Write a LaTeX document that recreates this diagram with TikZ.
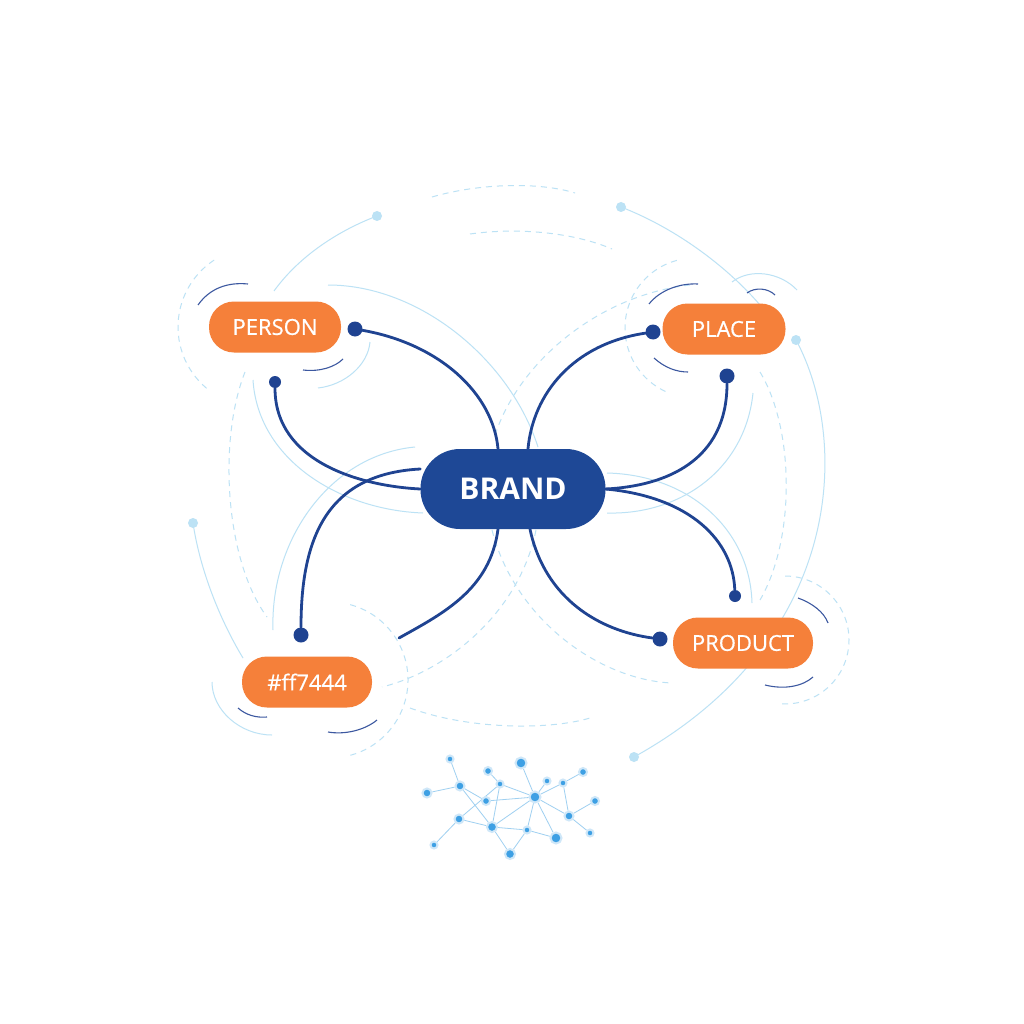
\documentclass[tikz,border=0pt]{standalone}
\usepackage{fontspec}
\setmainfont{Open Sans}
\newfontfamily\tagfont[FakeBold=0.6]{Open Sans}
\usetikzlibrary{backgrounds}

\definecolor{brandnavy}{RGB}{30,72,150}
\definecolor{linknavy}{RGB}{31,67,145}
\definecolor{tagorange}{RGB}{245,128,58}
\definecolor{faintblue}{RGB}{188,226,245}
\definecolor{accentblue}{RGB}{60,88,160}
\definecolor{netblue}{RGB}{62,160,228}

\newcommand*{\tagsize}{\fontsize{22}{26}\selectfont}
\newcommand*{\hubsize}{\fontsize{30}{36}\selectfont}

\begin{document}
\begin{tikzpicture}
[
	x=1pt,y=-1pt,
	tagbox/.style={rectangle,rounded corners=25pt,fill=tagorange,text=white,
		minimum width=#1,minimum height=51pt,inner sep=0pt,font=\tagfont\tagsize},
	hubbox/.style={rectangle,rounded corners=39.5pt,fill=brandnavy,text=white,
		minimum width=185pt,minimum height=80pt,inner sep=0pt,font=\hubsize\bfseries},
	closedpt/.style={circle,fill=linknavy,inner sep=0pt,minimum size=15pt},
	smallpt/.style={closedpt,minimum size=12pt},
	link/.style={linknavy,line width=2.8pt,line cap=round},
	faint/.style={faintblue,line width=1pt},
	faintdash/.style={faintblue,line width=1pt,dash pattern=on 6pt off 5pt},
	accent/.style={accentblue,line width=1.1pt},
	netpt/.style={circle,fill=netblue,draw=netblue!25,line width=2pt,inner sep=0pt,minimum size=#1},
	netedge/.style={netblue!50,line width=0.8pt}
]

	\useasboundingbox (0,0) rectangle (1024,1024);

	% main nodes
	\node[hubbox] (brand) at (513,489) {BRAND};
	\node[tagbox=132pt] (person) at (275,327) {PERSON};
	\node[tagbox=123pt] (place) at (724,329) {PLACE};
	\node[tagbox=130pt] (swatch) at (307,682) {\#ff7444};
	\node[tagbox=140pt] (product) at (743,643) {PRODUCT};

	% connector ends
	\node[closedpt] (pe1) at (355,329) {};
	\node[smallpt] (pe2) at (275,382) {};
	\node[closedpt] (pl1) at (653,332) {};
	\node[closedpt] (pl2) at (727,376) {};
	\node[closedpt] (sw1) at (301,635) {};
	\node[smallpt] (pr1) at (735,596) {};
	\node[closedpt] (pr2) at (660,639) {};
	\coordinate (swend) at (399,638);

	% network
	\foreach \n/\x/\y/\s in {n1/450/759/7pt, n2/521/763/11pt, n3/488/771/8pt,
		n4/583/772/8pt, n5/460/786/9pt, n6/500/784/7pt, n7/547/781/7pt,
		n8/563/783/7pt, n9/427/793/9pt, n10/486/801/8pt, n11/535/797/11pt,
		n12/595/801/8pt, n13/459/819/9pt, n14/492/827/10pt, n15/527/830/7pt,
		n16/569/816/9pt, n17/556/838/11pt, n18/590/833/7pt, n19/434/845/7pt,
		n20/510/854/10pt}
		\node[netpt=\s] (\n) at (\x,\y) {};

	\begin{scope}[on background layer]
		\fill[white] (0,0) rectangle (1024,1024);

		% faint lines
		\draw[faint] (274,291) .. controls (300,255) and (340,230) .. (377,216);
		\fill[faintblue] (377,216) circle[radius=5pt];
		\draw[faint] (328,285) .. controls (420,285) and (510,360) .. (538,447);
		\draw[faint] (253,380) .. controls (258,460) and (340,510) .. (423,513);
		\draw[faint] (415,447) .. controls (330,455) and (270,540) .. (273,630);
		\draw[faint] (193,523) .. controls (200,570) and (220,620) .. (243,658);
		\fill[faintblue] (193,523) circle[radius=5pt];
		\draw[faint] (318,388) .. controls (345,385) and (368,365) .. (370,342);
		\draw[faint] (621,207) .. controls (680,230) and (730,270) .. (760,305);
		\fill[faintblue] (621,207) circle[radius=5pt];
		\draw[faint] (732,282) .. controls (750,268) and (780,272) .. (797,290);
		\draw[faint] (753,393) .. controls (745,470) and (680,515) .. (607,513);
		\draw[faint] (607,473) .. controls (690,475) and (750,530) .. (752,603);
		\draw[faint] (796,340) .. controls (850,440) and (845,640) .. (634,757);
		\fill[faintblue] (796,340) circle[radius=5pt];
		\fill[faintblue] (634,757) circle[radius=5pt];
		\draw[faint] (212,682) .. controls (212,710) and (240,735) .. (272,735);

		% dashed arcs
		\draw[faintdash] (432,197) .. controls (480,183) and (540,182) .. (575,193);
		\draw[faintdash] (470,234) .. controls (520,227) and (575,233) .. (612,249);
		\draw[faintdash] (495,435) .. controls (520,360) and (600,295) .. (690,285);
		\draw[faintdash] (258,327) ++(130:80) arc[start angle=130,end angle=237,radius=80];
		\draw[faintdash] (245,372) .. controls (218,440) and (225,560) .. (267,617);
		\draw[faintdash] (695,328) ++(115:70) arc[start angle=115,end angle=258,radius=70];
		\draw[faintdash] (760,372) .. controls (795,430) and (795,540) .. (760,600);
		\draw[faintdash] (785,640) ++(-90:64) arc[start angle=-90,end angle=97,radius=64];
		\draw[faintdash] (330,680) ++(-75:78) arc[start angle=-75,end angle=75,radius=78];
		\draw[faintdash] (410,708) .. controls (470,730) and (550,730) .. (590,718);
		\draw[faintdash] (492,530) .. controls (515,620) and (600,680) .. (672,683);
		\draw[faintdash] (536,530) .. controls (520,610) and (450,670) .. (382,687);

		% accent arcs
		\draw[accent] (198,305) .. controls (210,288) and (228,282) .. (248,284);
		\draw[accent] (303,370) .. controls (320,372) and (335,367) .. (343,359);
		\draw[accent] (649,304) .. controls (660,290) and (680,283) .. (698,284);
		\draw[accent] (654,358) .. controls (665,368) and (677,372) .. (688,372);
		\draw[accent] (747,293) .. controls (755,287) and (768,288) .. (775,295);
		\draw[accent] (798,598) .. controls (812,603) and (824,612) .. (828,623);
		\draw[accent] (765,685) .. controls (785,690) and (803,686) .. (813,677);
		\draw[accent] (238,708) .. controls (246,715) and (256,718) .. (267,717);
		\draw[accent] (328,732) .. controls (345,735) and (365,730) .. (377,720);

		% connectors
		\draw[link] (pe1) .. controls +(85,15) and +(-5,-55) .. ([xshift=-15pt]brand.north);
		\draw[link] (pe2) .. controls +(0,80) and +(-60,-3) .. (brand.west);
		\draw[link] (pl1) .. controls +(-80,12) and +(5,-55) .. ([xshift=15pt]brand.north);
		\draw[link] (pl2) .. controls +(0,85) and +(60,-3) .. (brand.east);
		\draw[link] ([yshift=20pt]brand.west) .. controls +(-95,5) and +(0,-95) .. (sw1);
		\draw[link] ([xshift=-15pt]brand.south) .. controls +(-8,60) and +(45,-25) .. (swend);
		\draw[link] (brand.east) .. controls +(85,8) and +(-2,-55) .. (pr1);
		\draw[link] ([xshift=17pt]brand.south) .. controls +(15,70) and +(-60,-8) .. (pr2);

		% network edges
		\foreach \a/\b in {n1/n5, n9/n5, n5/n10, n5/n14, n13/n6, n13/n14, n13/n19,
			n3/n6, n6/n14, n6/n11, n10/n11, n2/n11, n11/n7, n11/n8, n8/n4,
			n8/n16, n11/n16, n16/n12, n16/n18, n11/n14, n11/n17, n14/n15,
			n15/n17, n14/n20, n15/n20, n11/n15}
			\draw[netedge] (\a) -- (\b);
	\end{scope}

\end{tikzpicture}
\end{document}
